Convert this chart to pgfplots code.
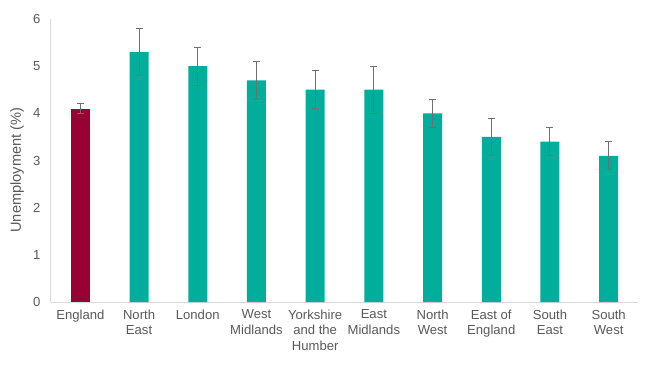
\documentclass[border=0pt]{standalone}
\usepackage{pgfplots}
\usepackage{pgfplotstable}
\pgfplotsset{compat=1.18}
\usepackage{fontspec}
\setmainfont{Liberation Sans}
\definecolor{maroon}{HTML}{990033}
\definecolor{teal}{HTML}{00AE9B}
\definecolor{txtgray}{HTML}{595959}
\definecolor{axgray}{HTML}{D9D9D9}
\definecolor{errgray}{HTML}{6F6F6F}
\pgfplotstableread{
x y ep em
0 4.1 0.1 0.1
}\england
\pgfplotstableread{
x y ep em
1 5.3 0.5 0.5
2 5.0 0.4 0.4
3 4.7 0.4 0.4
4 4.5 0.4 0.4
5 4.5 0.5 0.5
6 4.0 0.3 0.3
7 3.5 0.4 0.4
8 3.4 0.3 0.3
9 3.1 0.3 0.3
}\regions
\begin{document}
\begin{tikzpicture}
\useasboundingbox (-51pt,-65pt) rectangle (599pt,302pt);
\begin{axis}[
  at={(0,0)}, anchor=south west,
  scale only axis, width=587pt, height=283pt,
  xmin=-0.5, xmax=9.5, ymin=0, ymax=6,
  ytick={0,1,2,3,4,5,6},
  xtick={0,...,9},
  xticklabels={England,North\\East,London,West\\Midlands,Yorkshire\\and the\\Humber,East\\Midlands,North\\West,East of\\England,South\\East,South\\West},
  axis x line=bottom, axis y line=left,
  axis line style={draw=axgray, line width=1pt, -},
  major tick length=0pt,
  /pgf/number format/assume math mode=true,
  ticklabel style={font=\fontsize{13.1}{15.7}\selectfont, text=txtgray},
  xticklabel style={align=center, yshift=-4pt},
  yticklabel style={xshift=-7pt},
  ylabel={Unemployment (\%)},
  every axis y label/.style={at={(axis description cs:-0.0579,0.466)}, rotate=90, anchor=center, font=\fontsize{14.6}{17}\selectfont, text=txtgray},
]
\addplot[ybar, bar shift=0pt, bar width=19pt, fill=maroon, draw=none,
  error bars/y dir=both, error bars/y explicit,
  error bars/error bar style={color=errgray, line width=1pt},
  error bars/error mark options={rotate=90, mark size=3.5pt, line width=1pt, color=errgray}]
  table[x=x, y=y, y error plus=ep, y error minus=em]{\england};
\addplot[ybar, bar shift=0pt, bar width=19pt, fill=teal, draw=none,
  error bars/y dir=both, error bars/y explicit,
  error bars/error bar style={color=errgray, line width=1pt},
  error bars/error mark options={rotate=90, mark size=3.5pt, line width=1pt, color=errgray}]
  table[x=x, y=y, y error plus=ep, y error minus=em]{\regions};
\end{axis}
\end{tikzpicture}
\end{document}
